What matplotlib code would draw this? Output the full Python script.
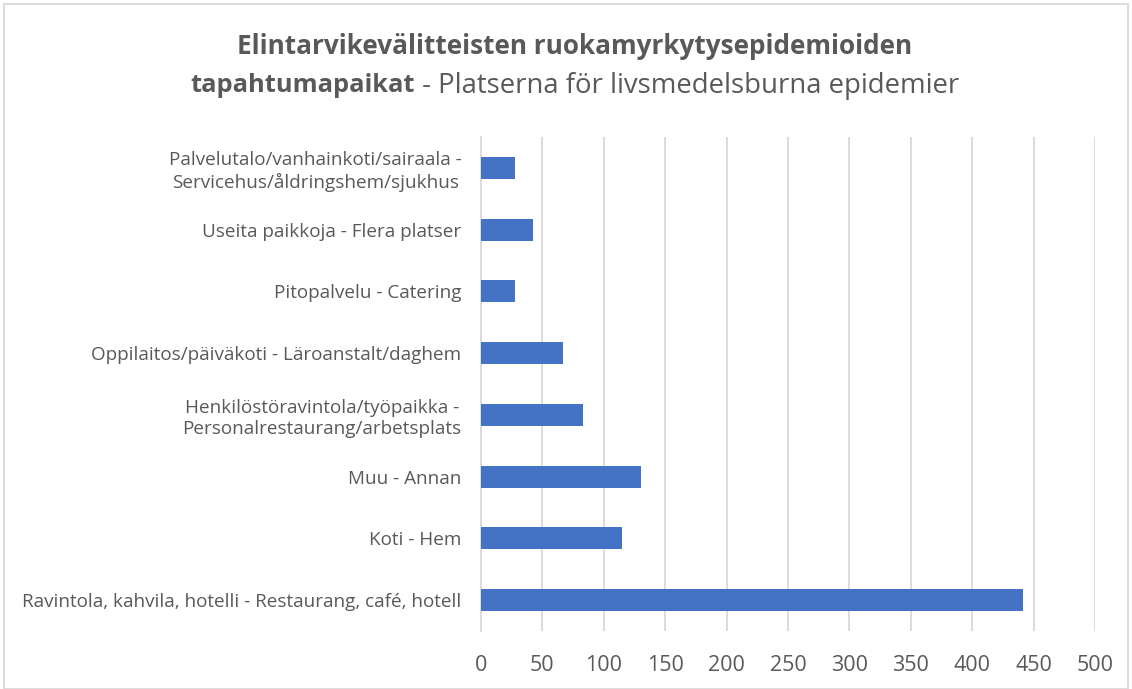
import matplotlib.pyplot as plt
from matplotlib.patches import Rectangle

# categories from bottom to top
places = [
    "Ravintola, kahvila, hotelli - Restaurang, café, hotell",
    "Koti - Hem",
    "Muu - Annan",
    "Henkilöstöravintola/työpaikka -\nPersonalrestaurang/arbetsplats",
    "Oppilaitos/päiväkoti - Läroanstalt/daghem",
    "Pitopalvelu - Catering",
    "Useita paikkoja - Flera platser",
    "Palvelutalo/vanhainkoti/sairaala -\nServicehus/åldringshem/sjukhus",
]
outbreaks = [441, 115, 130, 83, 67, 28, 42, 28]
xticks = [0, 50, 100, 150, 200, 250, 300, 350, 400, 450, 500]

title_bold_1 = "Elintarvikevälitteisten ruokamyrkytysepidemioiden"
title_bold_2 = "tapahtumapaikat"
title_rest_2 = " - Platserna för livsmedelsburna epidemier"

plt.rcParams["font.family"] = ["Open Sans", "DejaVu Sans"]
text_col = "#595959"
grid_col = "#d9d9d9"

fig = plt.figure(figsize=(11.32, 6.89), dpi=100)
ax = fig.add_axes([481 / 1132, 1 - 631 / 689, (1095 - 481) / 1132, (631 - 137) / 689])

ypos = range(len(places))
ax.barh(ypos, outbreaks, height=0.36, color="#4472C4", zorder=3)
ax.set_ylim(-0.5, len(places) - 0.5)
ax.set_xlim(0, 500)
ax.set_xticks(xticks)
ax.set_yticks(list(ypos))
ax.set_yticklabels(places, multialignment="center", linespacing=1.25)
ax.tick_params(axis="y", length=0, pad=14, labelsize=13.6, labelcolor=text_col)
ax.tick_params(axis="x", length=0, pad=17, labelsize=15.5, labelcolor=text_col)
ax.grid(axis="x", color=grid_col, linewidth=1.3, zorder=0)
for s in ["top", "right", "bottom"]:
    ax.spines[s].set_visible(False)
ax.spines["left"].set_color(grid_col)
ax.spines["left"].set_linewidth(1.3)

# title: first line bold, second line bold + regular
cx = 574.5 / 1132
fig.text(cx, 1 - 46 / 689, title_bold_1, ha="center", va="center",
         fontsize=18.8, fontweight="bold", color=text_col)
renderer = fig.canvas.get_renderer()
t1 = fig.text(0, 1 - 86 / 689, title_bold_2, ha="left", va="center",
              fontsize=18.3, fontweight="bold", color=text_col)
t2 = fig.text(0, 1 - 86 / 689, title_rest_2, ha="left", va="center",
              fontsize=19.8, color=text_col)
w1 = t1.get_window_extent(renderer).width / fig.bbox.width
w2 = t2.get_window_extent(renderer).width / fig.bbox.width
x0 = cx - (w1 + w2) / 2
t1.set_x(x0)
t2.set_x(x0 + w1)

# chart border
fig.add_artist(Rectangle((4 / 1132, 0.0), 1 - 8 / 1132, 1 - 4 / 689, transform=fig.transFigure,
                         fill=False, edgecolor=grid_col, linewidth=1.3))

fig.savefig("out.png", dpi=100)
